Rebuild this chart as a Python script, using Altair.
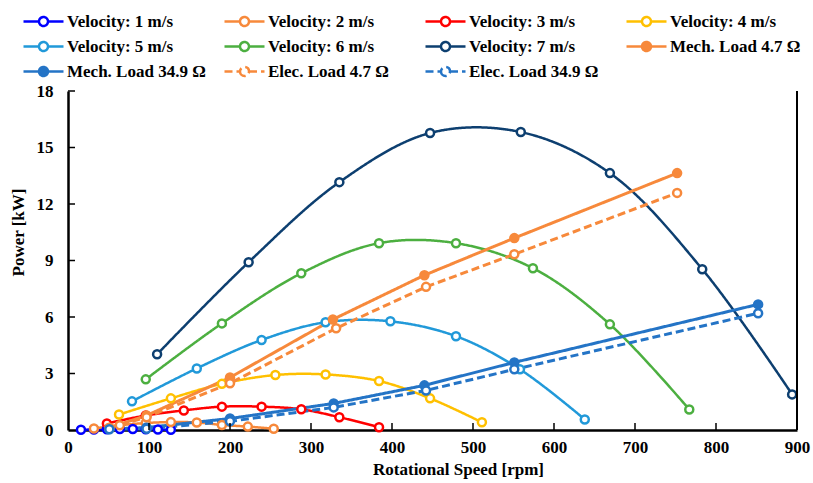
import altair as alt
import pandas as pd

FONT = "Liberation Serif"

series_names = [
    "Velocity: 1 m/s", "Velocity: 2 m/s", "Velocity: 3 m/s", "Velocity: 4 m/s",
    "Velocity: 5 m/s", "Velocity: 6 m/s", "Velocity: 7 m/s",
    "Mech. Load 4.7 Ω", "Mech. Load 34.9 Ω", "Elec. Load 4.7 Ω", "Elec. Load 34.9 Ω",
]
series_kind = ["vel"] * 7 + ["load"] * 4

# rotational speed [rpm]
rpm_v1 = [16, 32, 48, 64, 80, 96, 111, 127]
rpm_v2 = [32, 64, 96, 127, 159, 190, 222, 254]
rpm_v3 = [48, 96, 143, 190, 239, 288, 335, 384]
rpm_v4 = [63, 127, 190, 256, 318, 384, 447, 511]
rpm_v5 = [79, 159, 239, 318, 398, 479, 558, 638]
rpm_v6 = [96, 190, 288, 384, 479, 574, 669, 767]
rpm_v7 = [110, 223, 335, 447, 559, 669, 783, 894]
rpm_mech47 = [51, 97, 200, 327, 440, 551, 752]
rpm_mech349 = [51, 97, 200, 328, 440, 551, 852]
rpm_elec47 = [51, 97, 200, 331, 442, 551, 752]
rpm_elec349 = [51, 97, 200, 328, 442, 551, 852]

# power [kW]
kw_v1 = [0.01, 0.03, 0.04, 0.05, 0.05, 0.04, 0.03, 0.01]
kw_v2 = [0.08, 0.25, 0.37, 0.42, 0.40, 0.27, 0.18, 0.07]
kw_v3 = [0.35, 0.77, 1.04, 1.24, 1.24, 1.10, 0.68, 0.15]
kw_v4 = [0.82, 1.68, 2.45, 2.92, 2.95, 2.60, 1.68, 0.41]
kw_v5 = [1.52, 3.27, 4.78, 5.72, 5.77, 4.98, 3.22, 0.56]
kw_v6 = [2.69, 5.66, 8.32, 9.92, 9.92, 8.59, 5.61, 1.09]
kw_v7 = [4.02, 8.91, 13.16, 15.77, 15.82, 13.64, 8.54, 1.89]
kw_mech47 = [0.12, 0.77, 2.79, 5.87, 8.22, 10.19, 13.64]
kw_mech349 = [0.05, 0.13, 0.61, 1.41, 2.37, 3.59, 6.67]
kw_elec47 = [0.10, 0.68, 2.48, 5.40, 7.60, 9.33, 12.59]
kw_elec349 = [0.04, 0.07, 0.46, 1.20, 2.10, 3.22, 6.20]

x_ticks = [0, 100, 200, 300, 400, 500, 600, 700, 800, 900]
y_ticks = [0, 3, 6, 9, 12, 15, 18]

ORANGE = "#F7893B"
BLUE = "#2474C6"
colors = ["#0000FF", ORANGE, "#FF0000", "#FFC000", "#2199D9", "#4CAF40", "#0D3F70",
          ORANGE, BLUE, ORANGE, BLUE]
dashes = [[1, 0]] * 9 + [[8, 4]] * 2
fills = ["white"] * 7 + [ORANGE, BLUE] + ["white", "white"]

all_rpm = [rpm_v1, rpm_v2, rpm_v3, rpm_v4, rpm_v5, rpm_v6, rpm_v7,
           rpm_mech47, rpm_mech349, rpm_elec47, rpm_elec349]
all_kw = [kw_v1, kw_v2, kw_v3, kw_v4, kw_v5, kw_v6, kw_v7,
          kw_mech47, kw_mech349, kw_elec47, kw_elec349]

rows = []
for name, kind, xs, ys in zip(series_names, series_kind, all_rpm, all_kw):
    for i, (xv, yv) in enumerate(zip(xs, ys)):
        rows.append({"series": name, "kind": kind, "rpm": xv, "kw": yv, "idx": i})
df = pd.DataFrame(rows)

SYMBOL = ("M-2,0H-0.45M0.45,0H2"
          "M-0.45,0A0.45,0.45,0,1,0,0.45,0A0.45,0.45,0,1,0,-0.45,0")

leg = alt.Legend(
    title=None, orient="none", legendX=-36, legendY=-81, direction="horizontal",
    columns=4, gridAlign="all", columnPadding=13, rowPadding=4,
    symbolType=SYMBOL, symbolSize=400, symbolStrokeWidth=2.5,
    labelFont=FONT, labelFontSize=17, labelFontWeight="bold", labelColor="black",
    labelOffset=12, labelLimit=400, padding=0,
)

W, H = 729, 339

x_enc = alt.X("rpm:Q", scale=alt.Scale(domain=[0, 900], nice=False),
              axis=alt.Axis(values=x_ticks, title="Rotational Speed [rpm]", titleX=390,
                            labelPadding=9, titlePadding=6, labelFlush=False))
y_enc = alt.Y("kw:Q", scale=alt.Scale(domain=[0, 18], nice=False),
              axis=alt.Axis(values=y_ticks, title="Power [kW]", titleY=141,
                            labelPadding=15, titlePadding=9, labelFlush=False))
color_enc = alt.Color("series:N", scale=alt.Scale(domain=series_names, range=colors), legend=leg)
dash_enc = alt.StrokeDash("series:N", scale=alt.Scale(domain=series_names, range=dashes), legend=leg)
fill_enc = alt.Fill("series:N", scale=alt.Scale(domain=series_names, range=fills), legend=leg)

base = alt.Chart(df)

vel_lines = base.transform_filter(alt.datum.kind == "vel").mark_line(
    interpolate="catmull-rom", strokeWidth=2.5
).encode(x=x_enc, y=y_enc, color=color_enc, strokeDash=dash_enc)

load_lines = base.transform_filter(alt.datum.kind == "load").mark_line(
    interpolate="linear", strokeWidth=3
).encode(x=x_enc, y=y_enc, color=color_enc, strokeDash=dash_enc)

points = base.mark_point(shape="circle", size=64, strokeWidth=2.5, opacity=1).encode(
    x=x_enc, y=y_enc, color=color_enc, fill=fill_enc
)

xt = alt.Chart(pd.DataFrame({"rpm": x_ticks[1:-1]})).mark_rule(color="black", strokeWidth=1.5).encode(
    x="rpm:Q", y=alt.value(H), y2=alt.value(H - 7))
yt = alt.Chart(pd.DataFrame({"kw": y_ticks[1:]})).mark_rule(color="black", strokeWidth=1.5).encode(
    y="kw:Q", x=alt.value(0), x2=alt.value(7))
right_border = alt.Chart(pd.DataFrame({"a": [0]})).mark_rule(color="black", strokeWidth=2).encode(
    x=alt.value(W), y=alt.value(0), y2=alt.value(H))

chart = alt.layer(vel_lines, load_lines, points, xt, yt, right_border).properties(
    width=W, height=H,
    autosize=alt.AutoSizeParams(type="none"),
    padding={"left": 68, "top": 91, "right": 16, "bottom": 53},
).configure_view(stroke=None).configure_axis(
    grid=False, ticks=False, domainColor="black", domainWidth=2.5,
    labelFont=FONT, labelFontSize=17, labelFontWeight="bold", labelColor="black",
    titleFont=FONT, titleFontSize=17, titleFontWeight="bold", titleColor="black",
)

chart.save("out.html", embed_options={"renderer": "svg", "actions": False})
